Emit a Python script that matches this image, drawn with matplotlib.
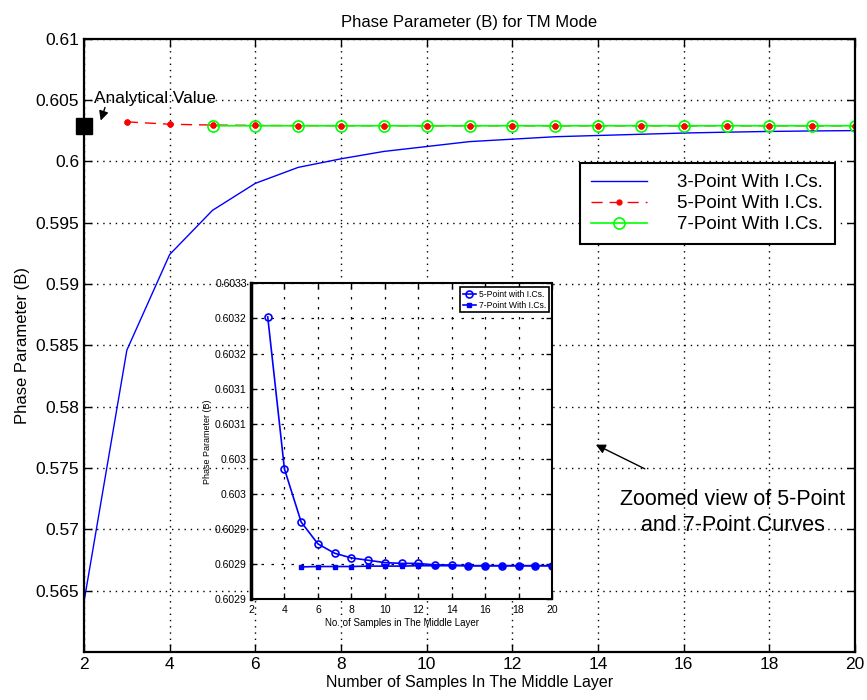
import matplotlib
matplotlib.use('Agg')
import matplotlib.pyplot as plt
import numpy as np

plt.rcParams['font.family'] = ['Liberation Sans', 'DejaVu Sans']

# samples in the middle layer
n3 = list(range(2, 21))
n5 = list(range(3, 21))
n7 = list(range(5, 21))

# phase parameter B
b3 = [0.5641, 0.5846, 0.5924, 0.5960, 0.5982, 0.5995, 0.6002, 0.6008, 0.6012,
      0.6016, 0.6018, 0.6020, 0.6021, 0.6022, 0.6023, 0.60237, 0.60243,
      0.60247, 0.6025]
b5 = [0.603212, 0.603017, 0.602949, 0.602921, 0.602909, 0.602903, 0.602900,
      0.602897, 0.602896, 0.602896, 0.602894, 0.602894, 0.602893, 0.602893,
      0.602893, 0.602893, 0.602893, 0.602893]
b7 = [0.6028915, 0.602892, 0.602892, 0.602892, 0.6028925, 0.6028925, 0.6028925,
      0.602893, 0.602893, 0.602893, 0.602893, 0.602893, 0.602893, 0.602893,
      0.602893, 0.602893]
analytical_n = 2
analytical_b = 0.60289

main_xticks = list(range(2, 21, 2))
main_yticks = [0.565, 0.57, 0.575, 0.58, 0.585, 0.59, 0.595, 0.6, 0.605, 0.61]
main_ylabels = ['0.565', '0.57', '0.575', '0.58', '0.585', '0.59', '0.595',
                '0.6', '0.605', '0.61']

inset_yticks = list(np.linspace(0.60285, 0.603255, 10))
inset_ylabels = ['0.6029', '0.6029', '0.6029', '0.603', '0.603', '0.6031',
                 '0.6031', '0.6032', '0.6032', '0.6033']

grid_style = dict(color='black', linestyle=(0, (1, 3.5)), linewidth=1.0)

fig = plt.figure(figsize=(8.67, 7.0), dpi=100)
ax = fig.add_axes([0.0969, 0.0686, 0.8893, 0.8763])

ax.plot(n3, b3, color='blue', linewidth=1.0, label='3-Point With I.Cs.')
ax.plot(n5, b5, color='red', linestyle=(0, (8, 5)), linewidth=1.0,
        marker='.', markersize=7, label='5-Point With I.Cs.')
ax.plot(n7, b7, color='#00ff00', linewidth=1.2, marker='o', markersize=8,
        markerfacecolor='none', markeredgewidth=1.2, label='7-Point With I.Cs.')
ax.plot(n5, b5, color='red', linestyle='none', marker='.', markersize=7)
ax.plot([analytical_n], [analytical_b], marker='s', color='black',
        markersize=11, linestyle='none', clip_on=False, zorder=5)

ax.set_xlim(2, 20)
ax.set_ylim(0.56, 0.61)
ax.set_xticks(main_xticks)
ax.set_yticks(main_yticks)
ax.set_yticklabels(main_ylabels)
ax.tick_params(direction='in', top=True, right=True, labelsize=12.5,
               length=6, width=1.0)
ax.grid(True, **grid_style)
for s in ax.spines.values():
    s.set_linewidth(1.6)

ax.set_title('Phase Parameter (B) for TM Mode', fontsize=12, pad=8)
ax.set_xlabel('Number of Samples In The Middle Layer', fontsize=11.5, labelpad=2)
ax.set_ylabel('Phase Parameter (B)', fontsize=12, labelpad=4)

leg = ax.legend(loc='upper left', bbox_to_anchor=(0.643, 0.797),
                fontsize=13.5, handlelength=3.0, handletextpad=1.6,
                labelspacing=0.2, borderpad=0.6, borderaxespad=0,
                fancybox=False, edgecolor='black', framealpha=1)
leg.get_frame().set_linewidth(1.5)

# annotations
ax.text(2.24, 0.6051, 'Analytical Value', fontsize=12.4, ha='left', va='center')
ax.annotate('', xy=(2.37, 0.6031), xytext=(2.51, 0.6046),
            arrowprops=dict(arrowstyle='-|>', color='black', lw=1.0,
                            mutation_scale=14))
ax.text(17.14, 0.5714, 'Zoomed view of 5-Point\nand 7-Point Curves',
        fontsize=15.5, ha='center', va='center', linespacing=1.3)
ax.annotate('', xy=(13.89, 0.5770), xytext=(15.15, 0.57483),
            arrowprops=dict(arrowstyle='-|>', color='black', lw=1.0,
                            mutation_scale=14))

# inset
axi = fig.add_axes([0.2895, 0.1439, 0.3472, 0.4514])
axi.set_facecolor('white')
axi.plot(n5, b5, color='blue', linewidth=1.2, marker='o', markersize=5,
         markerfacecolor='none', markeredgewidth=1.2, label='5-Point with I.Cs.')
axi.plot(n7, b7, color='blue', linewidth=1.2, marker='s', markersize=2.5,
         label='7-Point With I.Cs.')
axi.set_xlim(2, 20)
axi.set_ylim(0.60285, 0.603255)
axi.set_xticks(main_xticks)
axi.set_yticks(inset_yticks)
axi.set_yticklabels(inset_ylabels)
axi.tick_params(direction='in', top=True, right=True, labelsize=7.5,
                length=4, width=1.0)
axi.tick_params(axis='x', pad=4)
axi.tick_params(axis='y', pad=3)
axi.grid(True, color='black', linestyle=(0, (2, 6)), linewidth=0.9)
for s in axi.spines.values():
    s.set_linewidth(1.5)
axi.spines['left'].set_linewidth(2.5)
axi.set_xlabel('No. of Samples in The Middle Layer', fontsize=7, labelpad=2)
axi.set_ylabel('Phase Parameter (B)', fontsize=6.5, labelpad=2)
li = axi.legend(loc='upper right', bbox_to_anchor=(0.99, 0.987), fontsize=6.2,
                handlelength=1.5, handletextpad=0.4, labelspacing=0.2,
                borderpad=0.3, borderaxespad=0, fancybox=False,
                edgecolor='black', framealpha=1)
li.get_frame().set_linewidth(1.2)

fig.savefig('out.png', dpi=100)
